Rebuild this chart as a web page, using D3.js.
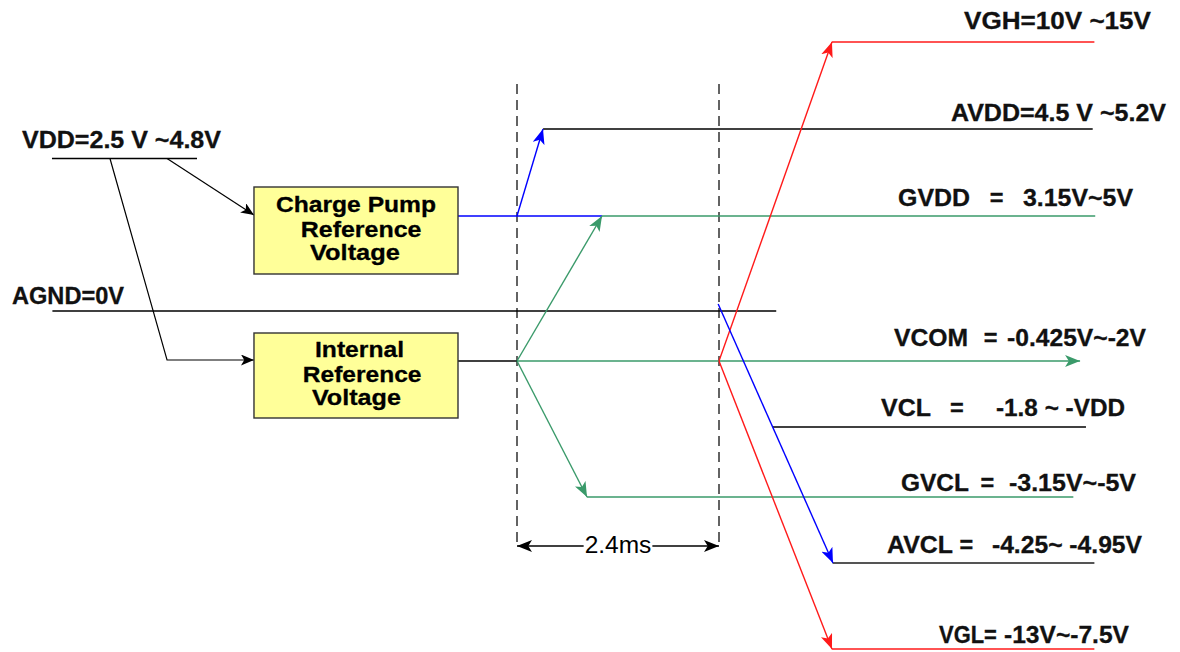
<!DOCTYPE html>
<html>
<head>
<meta charset="utf-8">
<script src="https://cdn.jsdelivr.net/npm/d3@7/dist/d3.min.js"></script>
<style>
  html, body { margin: 0; padding: 0; background: #fff; }
  svg { display: block; }
  text { font-family: "Liberation Sans", Arial, sans-serif; }
</style>
</head>
<body>
<svg id="chart" width="1180" height="652"></svg>
<script>
// ---------------- DATA ----------------
// time axis in ms (0 = first dashed marker, 2.4 = second), vertical axis in layout rows
const railNames  = ["VGH", "AVDD", "GVDD", "AGND", "VCOM", "VCL", "GVCL", "AVCL", "VGL"];
const railLevel  = [4.2, 12.9, 21.6, 31.1, 36.1, 42.7, 49.7, 56.3, 64.9];
const railFrom   = [3.74, 0.31, 1.01, -5.52, 0.0, 3.04, 0.83, 3.75, 3.74];
const railTo     = [6.86, 6.84, 6.87, 3.08, 6.69, 6.76, 6.61, 6.86, 6.86];
const railLabels = [
  ["VGH=10V ~15V"],
  ["AVDD=4.5 V ~5.2V"],
  ["GVDD", "=", "3.15V~5V"],
  ["AGND=0V"],
  ["VCOM", "=", "-0.425V~-2V"],
  ["VCL", "=", "-1.8 ~ -VDD"],
  ["GVCL", "=", "-3.15V~-5V"],
  ["AVCL", "=", "-4.25~ -4.95V"],
  ["VGL=", "-13V~-7.5V"]
];
const vddLabel   = "VDD=2.5 V ~4.8V";
const blockNames = [["Charge Pump", "Reference", "Voltage"], ["Internal", "Reference", "Voltage"]];
const delayMs    = 2.4;
const delayLabel = "2.4ms";

// ---------------- LAYOUT / STYLE ----------------
const W = 1180, H = 652;
const x = d3.scaleLinear().domain([0, delayMs]).range([517, 719]);
const y = d3.scaleLinear().domain([0, 65.2]).range([0, H]);

const RED = "#ff1a1a", BLUE = "#0000ff", GREEN = "#3a9a6a", BLACK = "#000", GRAY = "#555";
const railColor  = [RED, BLACK, GREEN, BLACK, GREEN, BLACK, GREEN, GRAY, RED];
const railWidth  = [1.4, 1.4, 1.4, 1.3, 1.4, 1.3, 1.4, 2, 1.4];

// label layout: per part [x0, x1] in ms, baseline in rows
const labelSpan = [
  [[5.323, 7.521]],
  [[5.168, 7.699]],
  [[4.539, 5.370], [5.608, 5.786], [6.024, 7.307]],
  [[-5.988, -4.681]],
  [[4.491, 5.347], [5.549, 5.703], [5.834, 7.461]],
  [[4.337, 4.907], [5.156, 5.299], [5.703, 7.212]],
  [[4.574, 5.358], [5.501, 5.679], [5.857, 7.343]],
  [[4.408, 5.168], [5.263, 5.418], [5.655, 7.414]],
  [[5.026, 5.690], [5.798, 7.259]]
];
const labelBase = [2.85, 12.05, 20.55, 30.35, 34.55, 41.55, 49.05, 55.25, 64.25];

const blockX = [-3.125, -0.701];
const blockY = [[18.7, 27.4], [33.3, 41.8]];
const blockTextSpan = [
  [[-2.851, -0.974], [-2.557, -1.147], [-2.447, -1.403]],
  [[-2.388, -1.354], [-2.533, -1.147], [-2.424, -1.391]]
];
const blockTextBase = [[21.2, 23.65, 26.0], [35.7, 38.2, 40.5]];

const svg = d3.select("#chart");
const defs = svg.append("defs");

function marker(id, color, len, half) {
  defs.append("marker")
    .attr("id", id)
    .attr("markerUnits", "userSpaceOnUse")
    .attr("viewBox", `0 ${-half} ${len} ${half * 2}`)
    .attr("refX", len).attr("refY", 0)
    .attr("markerWidth", len).attr("markerHeight", half * 2)
    .attr("orient", "auto-start-reverse")
    .append("path")
    .attr("d", `M0,${-half}L${len},0L0,${half}L${len * 0.25},0Z`)
    .attr("fill", color);
}
marker("aRed", RED, 15, 6);
marker("aBlue", BLUE, 15, 6);
marker("aGreen", GREEN, 15, 6);
marker("aBlack", BLACK, 13, 5.5);
marker("aDim", BLACK, 15, 6);

const line = d3.line().x(d => x(d[0])).y(d => y(d[1]));

// ---- dashed timing markers ----
svg.append("g").selectAll("line").data([0, delayMs]).join("line")
  .attr("x1", d => x(d)).attr("x2", d => x(d))
  .attr("y1", y(8.4)).attr("y2", y(54.8))
  .attr("stroke", "#222").attr("stroke-width", 1.4)
  .attr("stroke-dasharray", "10,6");

// ---- rails ----
svg.append("g").selectAll("line").data(railNames).join("line")
  .attr("x1", (d, i) => x(railFrom[i])).attr("x2", (d, i) => x(railTo[i]))
  .attr("y1", (d, i) => y(railLevel[i])).attr("y2", (d, i) => y(railLevel[i]))
  .attr("stroke", (d, i) => railColor[i])
  .attr("stroke-width", (d, i) => railWidth[i])
  .attr("marker-end", d => d === "VCOM" ? "url(#aGreen)" : null);

// ---- VDD supply ----
const vddLevel = 15.85;
svg.append("line")
  .attr("x1", x(-5.525)).attr("x2", x(-3.802))
  .attr("y1", y(vddLevel)).attr("y2", y(vddLevel))
  .attr("stroke", BLACK).attr("stroke-width", 1.3);

const paths = [
  // VDD -> charge pump
  { pts: [[-4.158, vddLevel], [-3.125, 21.5]], color: BLACK, m: "aBlack", w: 1.2 },
  // VDD -> internal reference
  { pts: [[-4.836, vddLevel], [-4.158, 36.0], [-3.125, 36.0]], color: BLACK, m: "aBlack", w: 1.2 },
  // charge pump output (blue)
  { pts: [[blockX[1], 21.6], [1.01, 21.6]], color: BLUE, m: null, w: 1.4 },
  // internal reference output (black)
  { pts: [[blockX[1], 36.1], [0, 36.1]], color: BLACK, m: null, w: 1.3 },
  // AVDD rise
  { pts: [[0, 21.6], [0.309, 12.9]], color: BLUE, m: "aBlue", w: 1.4 },
  // GVDD rise
  { pts: [[0, 36.1], [1.01, 21.6]], color: GREEN, m: "aGreen", w: 1.4 },
  // GVCL fall
  { pts: [[0, 36.1], [0.832, 49.7]], color: GREEN, m: "aGreen", w: 1.4 },
  // VGH rise
  { pts: [[2.4, 36.1], [3.742, 4.2]], color: RED, m: "aRed", w: 1.4 },
  // VGL fall
  { pts: [[2.4, 36.1], [3.742, 64.9]], color: RED, m: "aRed", w: 1.4 },
  // AVCL fall
  { pts: [[2.39, 30.4], [3.754, 56.3]], color: BLUE, m: "aBlue", w: 1.4 }
];
svg.append("g").selectAll("path").data(paths).join("path")
  .attr("d", d => line(d.pts))
  .attr("fill", "none")
  .attr("stroke", d => d.color)
  .attr("stroke-width", d => d.w)
  .attr("marker-end", d => d.m ? `url(#${d.m})` : null);

// ---- blocks ----
const blocks = svg.append("g").selectAll("g").data(blockNames).join("g");
blocks.append("rect")
  .attr("x", x(blockX[0])).attr("width", x(blockX[1]) - x(blockX[0]))
  .attr("y", (d, i) => y(blockY[i][0]))
  .attr("height", (d, i) => y(blockY[i][1]) - y(blockY[i][0]))
  .attr("fill", "#ffff99").attr("stroke", "#333").attr("stroke-width", 1.4);
blocks.each(function (d, i) {
  d3.select(this).selectAll("text").data(d).join("text")
    .attr("x", (t, j) => x(blockTextSpan[i][j][0]) - 1)
    .attr("y", (t, j) => y(blockTextBase[i][j]))
    .attr("textLength", (t, j) => x(blockTextSpan[i][j][1]) - x(blockTextSpan[i][j][0]) + 2)
    .attr("lengthAdjust", "spacingAndGlyphs")
    .attr("font-size", 22.5).attr("font-weight", "bold").attr("fill", "#000")
    .attr("stroke", "#000").attr("stroke-width", 0.3)
    .text(t => t);
});

// ---- labels ----
function putText(g, str, span, base, size) {
  const t = g.append("text")
    .attr("y", y(base))
    .attr("font-size", size).attr("font-weight", "bold").attr("fill", "#111")
    .attr("stroke", "#111").attr("stroke-width", 0.3)
    .text(str);
  if (str === "=") {
    t.attr("x", (x(span[0]) + x(span[1])) / 2).attr("text-anchor", "middle");
  } else {
    t.attr("x", x(span[0]) - 1)
     .attr("textLength", x(span[1]) - x(span[0]) + 2)
     .attr("lengthAdjust", "spacingAndGlyphs");
  }
}
const lg = svg.append("g");
railLabels.forEach((parts, i) => {
  parts.forEach((p, j) => putText(lg, p, labelSpan[i][j], labelBase[i], 23.5));
});
putText(lg, vddLabel, [-5.869, -3.529], 14.75, 23.5);

// ---- delay dimension ----
const dimLevel = 54.6;
const dim = svg.append("g");
dim.append("line")
  .attr("x1", x(0)).attr("x2", x(delayMs))
  .attr("y1", y(dimLevel)).attr("y2", y(dimLevel))
  .attr("stroke", BLACK).attr("stroke-width", 1.3)
  .attr("marker-start", "url(#aDim)").attr("marker-end", "url(#aDim)");
const gapRect = dim.append("rect").attr("fill", "#fff");
const dimText = dim.append("text")
  .attr("x", x(delayMs / 2)).attr("y", y(55.3))
  .attr("text-anchor", "middle")
  .attr("font-size", 24.5).attr("fill", "#000")
  .text(delayLabel);
const bb = dimText.node().getBBox();
gapRect
  .attr("x", bb.x - 1).attr("y", y(dimLevel) - 3)
  .attr("width", bb.width + 2).attr("height", 6);
</script>
</body>
</html>
